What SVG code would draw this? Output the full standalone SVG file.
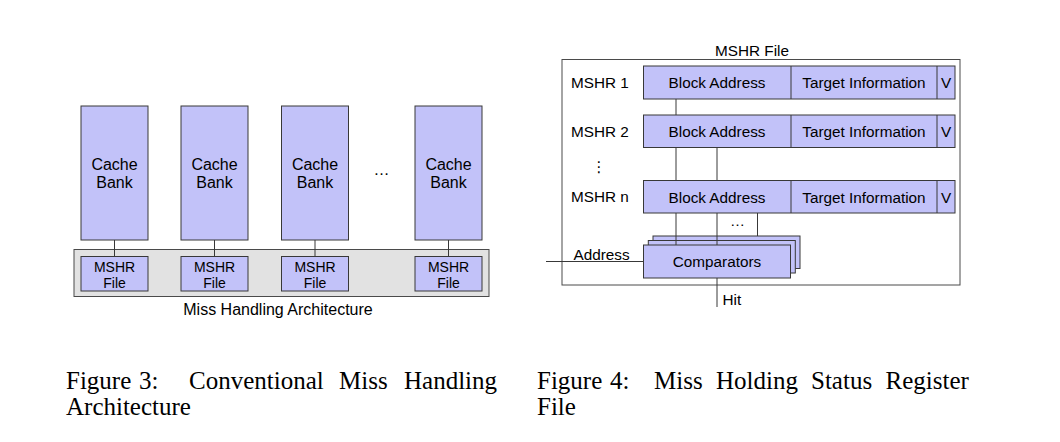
<svg xmlns="http://www.w3.org/2000/svg" width="1060" height="442" viewBox="0 0 1060 442">
<style>
.bg{fill:#ffffff}
.box{fill:#c2c2f9;stroke:#383838;stroke-width:1}
.grey{fill:#e2e2e2;stroke:#4a4a4a;stroke-width:1}
.frame{fill:#ffffff;stroke:#4a4a4a;stroke-width:1}
.ln{stroke:#383838;stroke-width:1;fill:none}
.t{font-family:"Liberation Sans",Arial,sans-serif;fill:#000}
.c16{font-size:16px;text-anchor:middle}
.c14{font-size:14px;text-anchor:middle}
.r15{font-size:15.3px}
.m15{font-size:15.3px;text-anchor:middle}
.cap{font-family:"Liberation Serif","Times New Roman",serif;font-size:25px;fill:#000}
</style>
<rect class="bg" x="0" y="0" width="1060" height="442"/>

<!-- Figure 3 -->
<g id="mha">
  <rect class="grey" x="74" y="249.5" width="415" height="47"/>
  <text class="t c16" x="278" y="315">Miss Handling Architecture</text>
</g>
<g id="bank1"><rect class="box" x="81" y="106" width="67" height="134"/><text class="t c16" x="114.5" y="169.5">Cache</text><text class="t c16" x="114.5" y="188">Bank</text></g>
<g id="bank2"><rect class="box" x="181" y="106" width="67" height="134"/><text class="t c16" x="214.5" y="169.5">Cache</text><text class="t c16" x="214.5" y="188">Bank</text></g>
<g id="bank3"><rect class="box" x="281.5" y="106" width="67" height="134"/><text class="t c16" x="315" y="169.5">Cache</text><text class="t c16" x="315" y="188">Bank</text></g>
<g id="bank4"><rect class="box" x="415" y="106" width="67" height="134"/><text class="t c16" x="448.5" y="169.5">Cache</text><text class="t c16" x="448.5" y="188">Bank</text></g>
<g id="ellipsis1"><text class="t c16" x="381.5" y="175">…</text></g>
<g id="mshr1"><rect class="box" x="81" y="256.5" width="67" height="34.5"/><text class="t c14" x="114.5" y="271.5">MSHR</text><text class="t c14" x="114.5" y="287.5">File</text></g>
<g id="mshr2"><rect class="box" x="181" y="256.5" width="67" height="34.5"/><text class="t c14" x="214.5" y="271.5">MSHR</text><text class="t c14" x="214.5" y="287.5">File</text></g>
<g id="mshr3"><rect class="box" x="281.5" y="256.5" width="67" height="34.5"/><text class="t c14" x="315" y="271.5">MSHR</text><text class="t c14" x="315" y="287.5">File</text></g>
<g id="mshr4"><rect class="box" x="415" y="256.5" width="67" height="34.5"/><text class="t c14" x="448.5" y="271.5">MSHR</text><text class="t c14" x="448.5" y="287.5">File</text></g>

<!-- Figure 4 -->
<g id="mshrfile">
  <rect class="frame" x="562" y="59.5" width="398" height="225.5"/>
  <text class="t m15" x="752" y="56">MSHR File</text>
  <text class="t r15" x="571" y="88.3">MSHR 1</text>
  <text class="t r15" x="571" y="137">MSHR 2</text>
  <text class="t r15" x="571" y="202">MSHR n</text>
  <text class="t" x="599" y="172" style="font-family:'DejaVu Sans',sans-serif;font-size:15px;text-anchor:middle">⋮</text>
</g>
<g id="row1">
  <rect class="box" x="643.5" y="66" width="311.5" height="33"/>
  <line class="ln" x1="791" y1="66" x2="791" y2="99"/><line class="ln" x1="937" y1="66" x2="937" y2="99"/>
  <text class="t m15" x="717" y="88">Block Address</text><text class="t m15" x="864" y="88">Target Information</text><text class="t m15" x="946" y="88">V</text>
</g>
<g id="row2">
  <rect class="box" x="643.5" y="115" width="311.5" height="32.5"/>
  <line class="ln" x1="791" y1="115" x2="791" y2="147.5"/><line class="ln" x1="937" y1="115" x2="937" y2="147.5"/>
  <text class="t m15" x="717" y="137">Block Address</text><text class="t m15" x="864" y="137">Target Information</text><text class="t m15" x="946" y="137">V</text>
</g>
<g id="rown">
  <rect class="box" x="643.5" y="180.5" width="311.5" height="32.5"/>
  <line class="ln" x1="791" y1="180.5" x2="791" y2="213"/><line class="ln" x1="937" y1="180.5" x2="937" y2="213"/>
  <text class="t m15" x="717" y="202.5">Block Address</text><text class="t m15" x="864" y="202.5">Target Information</text><text class="t m15" x="946" y="202.5">V</text>
</g>
<g id="comparators">
  <rect class="box" x="653" y="236" width="147" height="32.5"/>
  <rect class="box" x="648.3" y="240.5" width="147" height="32.5"/>
  <rect class="box" x="643.5" y="245" width="147" height="33"/>
  <text class="t m15" x="717" y="267">Comparators</text>
</g>
<g id="labels">
  <text class="t r15" x="573.5" y="259.5">Address</text>
  <text class="t r15" x="722.5" y="305">Hit</text>
  <text class="t" x="737.5" y="226" style="font-size:15px;text-anchor:middle">…</text>
</g>

<g id="connectors">
  <line class="ln" x1="114.5" y1="240" x2="114.5" y2="256.5"/>
  <line class="ln" x1="214.5" y1="240" x2="214.5" y2="256.5"/>
  <line class="ln" x1="315" y1="240" x2="315" y2="256.5"/>
  <line class="ln" x1="448.5" y1="240" x2="448.5" y2="256.5"/>
  <line class="ln" x1="676" y1="99" x2="676" y2="115"/>
  <line class="ln" x1="676" y1="147.5" x2="676" y2="180.5"/>
  <line class="ln" x1="676" y1="213" x2="676" y2="245"/>
  <line class="ln" x1="717" y1="147.5" x2="717" y2="180.5"/>
  <line class="ln" x1="717" y1="213" x2="717" y2="245"/>
  <line class="ln" x1="757.5" y1="213" x2="757.5" y2="236"/>
  <line class="ln" x1="546" y1="261.5" x2="643.5" y2="261.5"/>
  <line class="ln" x1="717" y1="278" x2="717" y2="307"/>
</g>

<g id="captions">
  <text class="cap" y="389"><tspan x="66">Figure</tspan><tspan x="139">3:</tspan><tspan x="189">Conventional</tspan><tspan x="339">Miss</tspan><tspan x="404">Handling</tspan></text>
  <text class="cap" x="66" y="415">Architecture</text>
  <text class="cap" y="389"><tspan x="537">Figure</tspan><tspan x="610">4:</tspan><tspan x="654">Miss</tspan><tspan x="716">Holding</tspan><tspan x="811">Status</tspan><tspan x="885.5">Register</tspan></text>
  <text class="cap" x="537" y="415">File</text>
</g>
</svg>
